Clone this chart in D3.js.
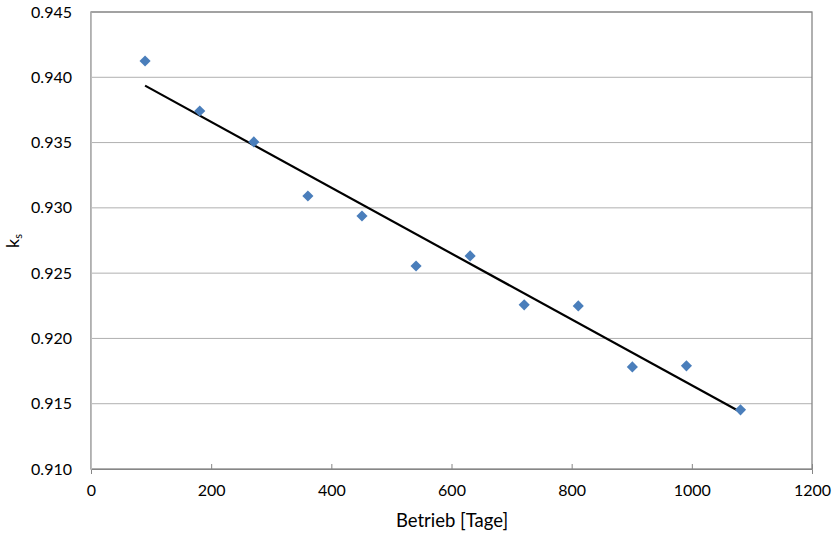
<!DOCTYPE html>
<html><head><meta charset="utf-8">
<script src="https://cdn.jsdelivr.net/npm/d3@7"></script>
<style>
body{margin:0;background:#fff;}
text{font-family:Lato,"Open Sans",sans-serif;fill:#000;}
</style></head>
<body>
<svg id="chart" width="833" height="535"></svg>
<script>
const days = [90, 181, 271, 361, 451, 541, 631, 721, 811, 901, 991, 1081];
const ks = [0.94125, 0.93742, 0.93505, 0.93091, 0.92938, 0.92555, 0.92632, 0.92257, 0.92249, 0.91782, 0.91790, 0.91453];
const trendX = [90, 1081];
const trendY = [0.93936, 0.91437];
const xTicks = [0, 200, 400, 600, 800, 1000, 1200];
const yTicks = [0.910, 0.915, 0.920, 0.925, 0.930, 0.935, 0.940, 0.945];

const svg = d3.select("#chart");
const L = 91, R = 812, T = 12, B = 469;
const x = d3.scaleLinear().domain([0, 1200]).range([L, R]);
const y = d3.scaleLinear().domain([0.910, 0.945]).range([B, T]);

// gridlines
svg.append("g").selectAll("line").data(yTicks.slice(1)).join("line")
  .attr("x1", L).attr("x2", R).attr("y1", d => y(d)).attr("y2", d => y(d))
  .attr("stroke", "#b0b0b0").attr("stroke-width", 1);

// plot border
svg.append("rect").attr("x", L).attr("y", T).attr("width", R - L).attr("height", B - T)
  .attr("fill", "none").attr("stroke", "#868686").attr("stroke-width", 1.3);

// axes
const xAxis = svg.append("g").attr("transform", `translate(0,${B})`)
  .call(d3.axisBottom(x).tickValues(xTicks).tickSize(5).tickPadding(11).tickFormat(d3.format("d")));
xAxis.select(".domain").attr("stroke", "#868686");
xAxis.selectAll(".tick line").attr("stroke", "#868686").attr("y1", -5).attr("y2", 0);
xAxis.selectAll("text").attr("font-size", 16).attr("font-family", "Lato, 'Open Sans', sans-serif").attr("fill", "#000");

const yAxis = svg.append("g").attr("transform", `translate(${L},0)`)
  .call(d3.axisLeft(y).tickValues(yTicks).tickSize(0).tickPadding(19).tickFormat(d3.format(".3f")));
yAxis.select(".domain").attr("stroke", "#bdbdbd");
yAxis.selectAll("text").attr("font-size", 16).attr("font-family", "Lato, 'Open Sans', sans-serif").attr("fill", "#000");

// trend line
svg.append("line")
  .attr("x1", x(trendX[0])).attr("y1", y(trendY[0]))
  .attr("x2", x(trendX[1])).attr("y2", y(trendY[1]))
  .attr("stroke", "#000").attr("stroke-width", 2.2);

// points (diamonds)
const sym = d3.symbol().type(d3.symbolSquare).size(62);
svg.append("g").selectAll("path").data(days.map((d, i) => [d, ks[i]])).join("path")
  .attr("d", sym)
  .attr("transform", d => `translate(${x(d[0])},${y(d[1])}) rotate(45)`)
  .attr("fill", "#4a7ebb");

// axis titles
svg.append("text").attr("x", 452).attr("y", 527).attr("text-anchor", "middle")
  .attr("font-size", 18.5).text("Betrieb [Tage]");
const yt = svg.append("text").attr("transform", "translate(19,241) rotate(-90)")
  .attr("text-anchor", "middle").attr("font-size", 18);
yt.append("tspan").text("k");
yt.append("tspan").attr("font-size", 11).attr("dy", 3).text("s");
</script>
</body></html>
